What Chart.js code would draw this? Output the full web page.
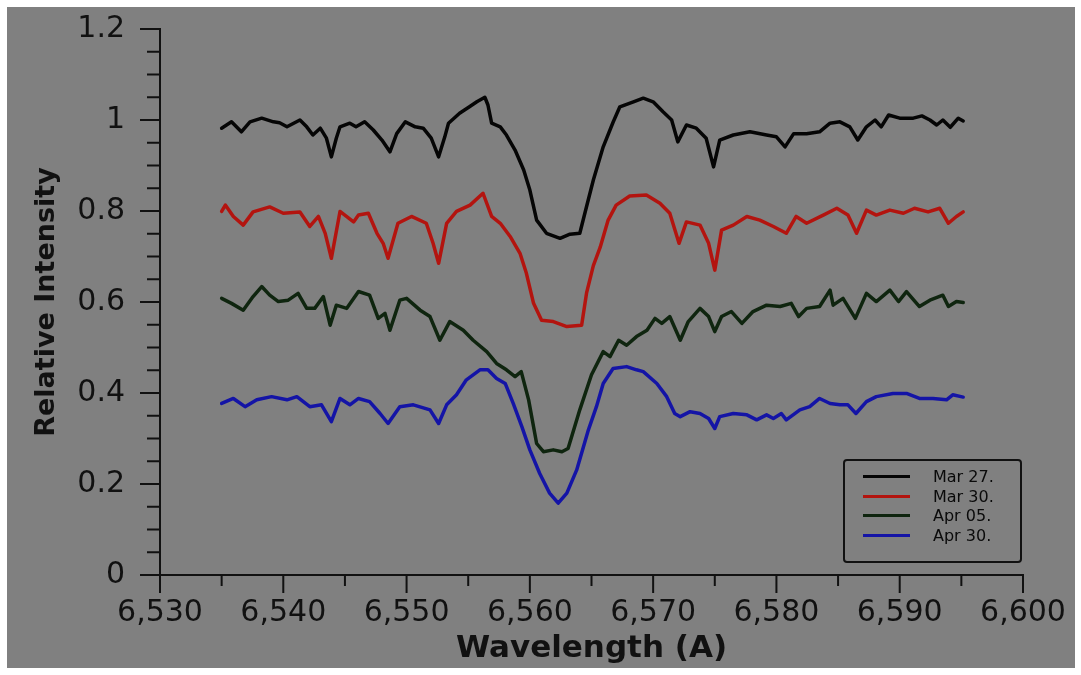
<!DOCTYPE html>
<html>
<head>
<meta charset="utf-8">
<script src="https://cdn.jsdelivr.net/npm/chart.js@4.4.0/dist/chart.umd.min.js"></script>
<style>
  html, body { margin: 0; padding: 0; background: #fff; }
  #frame { position: absolute; left: 7px; top: 7px; width: 1068px; height: 661px; background: #808080; }
  #legend {
    position: absolute; left: 836px; top: 452px; width: 175px; height: 94px;
    border: 2px solid #111; border-radius: 4px; padding-top: 6px; box-sizing: content-box;
    font-family: "DejaVu Sans", sans-serif; font-size: 16px; color: #0a0a0a;
  }
  #legend .row { display: flex; align-items: center; height: 19.5px; }
  #legend .swatch { width: 47px; height: 3px; margin-left: 18px; margin-right: 23px; }
</style>
</head>
<body>
<div id="frame">
  <canvas id="chart" width="1068" height="661"></canvas>
  <div id="legend"></div>
</div>
<script>
// tick labels
const xTickLabels = ['6,530', '6,540', '6,550', '6,560', '6,570', '6,580', '6,590', '6,600'];
const yTickLabels = ['0', '0.2', '0.4', '0.6', '0.8', '1', '1.2'];

// Mar 27.
const wlMar27 = [6535.0, 6535.8, 6536.6, 6537.3, 6538.25, 6539.2, 6539.7, 6540.3, 6541.35, 6541.9,
  6542.4, 6543.0, 6543.5, 6543.9, 6544.3, 6544.6, 6545.4, 6545.9, 6546.6, 6547.3,
  6548.0, 6548.65, 6549.2, 6549.9, 6550.7, 6551.35, 6552.0, 6552.6, 6553.1, 6553.4,
  6554.3, 6555.1, 6555.7, 6556.35, 6556.6, 6556.9, 6557.6, 6558.1, 6558.8, 6559.5,
  6560.0, 6560.55, 6561.35, 6562.45, 6563.25, 6564.05, 6564.6, 6565.15, 6565.95, 6566.75,
  6567.3, 6568.4, 6569.2, 6570.0, 6570.8, 6571.5, 6572.0, 6572.7, 6573.5, 6574.3,
  6574.9, 6575.4, 6576.5, 6577.85, 6579.2, 6580.0, 6580.7, 6581.4, 6582.45, 6583.5,
  6584.35, 6585.15, 6585.95, 6586.6, 6587.3, 6588.0, 6588.5, 6589.1, 6590.0, 6591.1,
  6591.8, 6592.45, 6593.0, 6593.5, 6594.1, 6594.75, 6595.15];
const valMar27 = [0.982, 0.996, 0.974, 0.996, 1.004, 0.996, 0.994, 0.985, 1.0, 0.985,
  0.967, 0.982, 0.96, 0.919, 0.96, 0.985, 0.993, 0.985, 0.996, 0.978,
  0.956, 0.93, 0.97, 0.996, 0.985, 0.982, 0.96, 0.919, 0.963, 0.993,
  1.015, 1.029, 1.04, 1.05, 1.033, 0.993, 0.985, 0.967, 0.934, 0.89,
  0.846, 0.78, 0.751, 0.74, 0.749, 0.751, 0.81, 0.868, 0.941, 0.995,
  1.029, 1.04, 1.048, 1.04, 1.018, 1.0, 0.952, 0.989, 0.982, 0.96,
  0.897, 0.956, 0.967, 0.974, 0.967, 0.963, 0.941, 0.97, 0.97, 0.974,
  0.993, 0.996, 0.985, 0.956, 0.985, 1.0, 0.985, 1.011, 1.004, 1.004,
  1.009, 1.0, 0.989, 1.0, 0.984, 1.004, 0.998];

// Mar 30.
const wlMar30 = [6535.0, 6535.3, 6535.95, 6536.75, 6537.55, 6538.9, 6540.0, 6541.35, 6542.15, 6542.85,
  6543.4, 6543.9, 6544.6, 6545.7, 6546.1, 6546.9, 6547.6, 6548.1, 6548.5, 6549.3,
  6550.4, 6551.6, 6552.15, 6552.6, 6553.25, 6554.05, 6555.15, 6556.2, 6556.9, 6557.6,
  6558.4, 6559.2, 6559.7, 6560.3, 6560.95, 6561.9, 6563.0, 6564.2, 6564.6, 6565.15,
  6565.7, 6566.35, 6567.0, 6568.1, 6569.45, 6570.55, 6571.35, 6572.1, 6572.7, 6573.8,
  6574.5, 6575.0, 6575.55, 6576.5, 6577.6, 6578.65, 6579.75, 6580.8, 6581.6, 6582.45,
  6583.8, 6584.9, 6585.8, 6586.5, 6587.3, 6588.1, 6589.2, 6590.3, 6591.2, 6592.3,
  6593.25, 6593.95, 6594.6, 6595.15];
const valMar30 = [0.799, 0.813, 0.788, 0.769, 0.798, 0.809, 0.795, 0.798, 0.766, 0.788,
  0.751, 0.696, 0.799, 0.776, 0.791, 0.795, 0.751, 0.729, 0.696, 0.773,
  0.788, 0.773, 0.729, 0.685, 0.773, 0.799, 0.813, 0.839, 0.788, 0.773,
  0.744, 0.707, 0.665, 0.597, 0.56, 0.557, 0.546, 0.549, 0.62, 0.68,
  0.72, 0.78, 0.813, 0.833, 0.835, 0.817, 0.795, 0.729, 0.776, 0.769,
  0.729, 0.67, 0.758, 0.769, 0.788, 0.78, 0.766, 0.751, 0.788, 0.773,
  0.791, 0.806, 0.791, 0.751, 0.802, 0.791, 0.802, 0.795, 0.806, 0.798,
  0.806, 0.773, 0.788, 0.798];

// Apr 05.
const wlApr05 = [6535.0, 6535.8, 6536.75, 6537.55, 6538.25, 6538.9, 6539.6, 6540.4, 6541.2, 6541.9,
  6542.55, 6543.25, 6543.8, 6544.3, 6545.15, 6546.1, 6547.0, 6547.7, 6548.25, 6548.65,
  6549.45, 6550.0, 6551.1, 6551.9, 6552.7, 6553.5, 6554.6, 6555.4, 6556.5, 6557.3,
  6558.1, 6558.8, 6559.3, 6559.9, 6560.55, 6561.1, 6561.9, 6562.6, 6563.1, 6564.05,
  6565.0, 6565.95, 6566.5, 6567.2, 6567.85, 6568.65, 6569.5, 6570.15, 6570.7, 6571.35,
  6572.2, 6572.85, 6573.8, 6574.5, 6575.0, 6575.55, 6576.35, 6577.2, 6578.1, 6579.2,
  6580.3, 6581.2, 6581.8, 6582.45, 6583.5, 6584.35, 6584.6, 6585.4, 6586.4, 6587.3,
  6588.1, 6589.2, 6589.9, 6590.55, 6591.6, 6592.45, 6593.5, 6593.95, 6594.6, 6595.15];
const valApr05 = [0.608, 0.597, 0.582, 0.612, 0.634, 0.615, 0.601, 0.604, 0.619, 0.586,
  0.586, 0.612, 0.549, 0.593, 0.586, 0.623, 0.615, 0.564, 0.575, 0.538,
  0.604, 0.608, 0.582, 0.568, 0.516, 0.557, 0.538, 0.516, 0.491, 0.465,
  0.451, 0.436, 0.447, 0.385, 0.289, 0.271, 0.275, 0.271, 0.278, 0.363,
  0.44, 0.491, 0.48, 0.516, 0.505, 0.524, 0.538, 0.564, 0.553, 0.568,
  0.516, 0.557, 0.586, 0.568, 0.535, 0.568, 0.579, 0.553, 0.579, 0.593,
  0.59, 0.597, 0.568, 0.586, 0.59, 0.626, 0.593, 0.608, 0.564, 0.619,
  0.601, 0.626, 0.601, 0.623, 0.59, 0.604, 0.615, 0.59, 0.601, 0.599];

// Apr 30.
const wlApr30 = [6535.0, 6535.95, 6536.9, 6537.85, 6539.05, 6540.3, 6541.1, 6542.15, 6543.1, 6543.9,
  6544.6, 6545.4, 6546.1, 6547.0, 6547.85, 6548.5, 6549.45, 6550.55, 6551.9, 6552.6,
  6553.25, 6554.05, 6554.85, 6555.95, 6556.6, 6557.3, 6558.0, 6558.65, 6559.35, 6560.0,
  6560.8, 6561.6, 6562.3, 6563.0, 6563.8, 6564.75, 6565.4, 6565.95, 6566.75, 6567.85,
  6568.65, 6569.2, 6570.3, 6571.1, 6571.75, 6572.2, 6573.0, 6573.8, 6574.5, 6575.0,
  6575.4, 6576.5, 6577.6, 6578.4, 6579.2, 6579.75, 6580.4, 6580.8, 6581.9, 6582.7,
  6583.5, 6584.35, 6585.15, 6585.8, 6586.45, 6587.3, 6588.1, 6589.45, 6590.55, 6591.6,
  6592.7, 6593.8, 6594.3, 6595.15];
const valApr30 = [0.377, 0.388, 0.37, 0.385, 0.392, 0.385, 0.392, 0.37, 0.374, 0.337,
  0.388, 0.374, 0.388, 0.381, 0.355, 0.333, 0.37, 0.374, 0.363, 0.333,
  0.374, 0.396, 0.429, 0.451, 0.451, 0.432, 0.421, 0.377, 0.326, 0.275,
  0.223, 0.18, 0.158, 0.18, 0.231, 0.319, 0.37, 0.421, 0.454, 0.458,
  0.451, 0.447, 0.421, 0.392, 0.355, 0.348, 0.359, 0.355, 0.344, 0.322,
  0.348, 0.355, 0.352, 0.341, 0.352, 0.344, 0.355, 0.341, 0.363, 0.37,
  0.388, 0.377, 0.374, 0.374, 0.355, 0.381, 0.392, 0.399, 0.399, 0.388,
  0.388, 0.385, 0.396, 0.391];

const seriesLabels = ['Mar 27.', 'Mar 30.', 'Apr 05.', 'Apr 30.'];

function pairs(xs, ys) {
  return xs.map((x, i) => ({ x: x, y: ys[i] }));
}

function isMajorX(v) { return Math.round(v) % 10 === 0; }
function isMajorY(v) { return Math.round(v * 100) % 20 === 0; }

// outward tick marks, long for major and short for minor
const tickMarks = {
  id: 'tickMarks',
  afterDraw(chart) {
    const ctx = chart.ctx;
    const xs = chart.scales.x, ys = chart.scales.y;
    ctx.save();
    ctx.strokeStyle = '#111';
    ctx.lineWidth = 2;
    ctx.beginPath();
    xs.ticks.forEach(t => {
      const px = xs.getPixelForValue(t.value);
      ctx.moveTo(px, xs.top);
      ctx.lineTo(px, xs.top + (isMajorX(t.value) ? 18 : 11));
    });
    ys.ticks.forEach(t => {
      const py = ys.getPixelForValue(t.value);
      ctx.moveTo(ys.right, py);
      ctx.lineTo(ys.right - (isMajorY(t.value) ? 20 : 13), py);
    });
    ctx.stroke();
    ctx.restore();
  }
};

const lineStyle = {
  borderWidth: 3.5, pointRadius: 0, tension: 0, fill: false,
  borderJoinStyle: 'round', borderCapStyle: 'round',
};

const chart = new Chart(document.getElementById('chart'), {
  type: 'line',
  data: {
    datasets: [
      { label: seriesLabels[0], data: pairs(wlMar27, valMar27), borderColor: '#050505', ...lineStyle },
      { label: seriesLabels[1], data: pairs(wlMar30, valMar30), borderColor: '#b3140f', ...lineStyle },
      { label: seriesLabels[2], data: pairs(wlApr05, valApr05), borderColor: '#0f250f', ...lineStyle },
      { label: seriesLabels[3], data: pairs(wlApr30, valApr30), borderColor: '#1414a6', ...lineStyle },
    ],
  },
  options: {
    responsive: false,
    animation: false,
    layout: { padding: { top: 22, right: 52, left: 0, bottom: 0 } },
    plugins: { legend: { display: false }, tooltip: { enabled: false } },
    scales: {
      x: {
        type: 'linear',
        min: 6530,
        max: 6600,
        afterFit: s => { s.height = 93; s.paddingLeft = 0; s.paddingRight = 0; },
        grid: { display: false, drawTicks: false },
        border: { display: true, color: '#111', width: 2 },
        ticks: {
          stepSize: 5,
          autoSkip: false,
          maxRotation: 0,
          padding: 20,
          color: '#111',
          font: { family: 'DejaVu Sans', size: 30 },
          callback: v => isMajorX(v) ? xTickLabels[Math.round((v - 6530) / 10)] : '',
        },
        title: {
          display: true,
          text: 'Wavelength (A)',
          color: '#111',
          padding: { top: 0, bottom: 0 },
          font: { family: 'DejaVu Sans', size: 31, weight: 'bold' },
        },
      },
      y: {
        min: 0,
        max: 1.2,
        afterFit: s => { s.width = 153; s.paddingTop = 0; s.paddingBottom = 0; },
        grid: { display: false, drawTicks: false },
        border: { display: true, color: '#111', width: 2 },
        ticks: {
          stepSize: 0.05,
          autoSkip: false,
          padding: 35,
          color: '#111',
          font: { family: 'DejaVu Sans', size: 30 },
          callback: v => isMajorY(v) ? yTickLabels[Math.round(v * 5)] : '',
        },
        title: {
          display: true,
          text: 'Relative Intensity',
          color: '#111',
          padding: { top: 24, bottom: 0 },
          font: { family: 'DejaVu Sans', size: 27, weight: 'bold' },
        },
      },
    },
  },
  plugins: [tickMarks],
});

// legend box built from the datasets
const legendEl = document.getElementById('legend');
chart.data.datasets.forEach(ds => {
  const row = document.createElement('div');
  row.className = 'row';
  const sw = document.createElement('span');
  sw.className = 'swatch';
  sw.style.background = ds.borderColor;
  const txt = document.createElement('span');
  txt.textContent = ds.label;
  row.appendChild(sw);
  row.appendChild(txt);
  legendEl.appendChild(row);
});
</script>
</body>
</html>
